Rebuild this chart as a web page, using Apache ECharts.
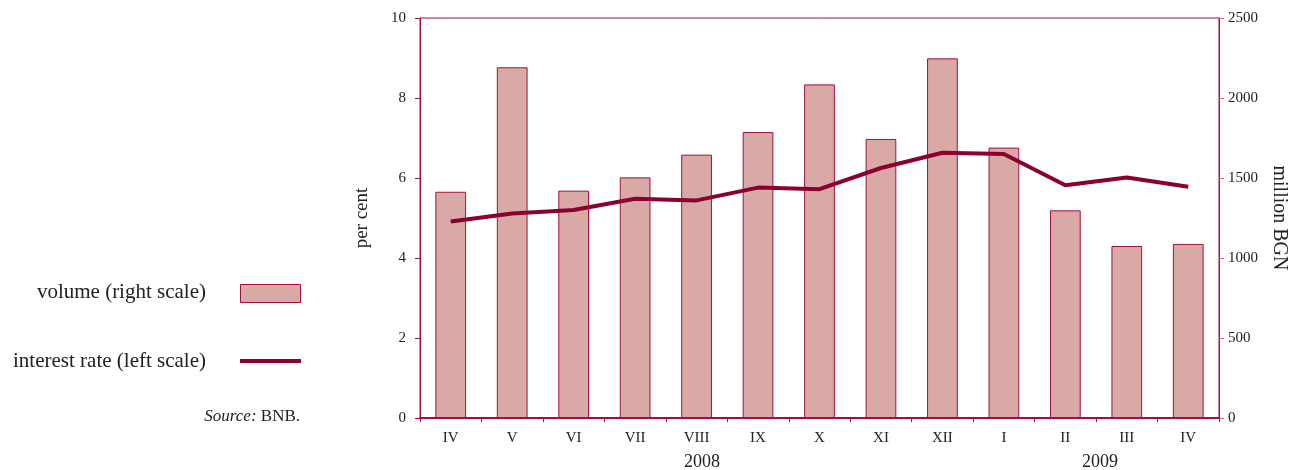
<!DOCTYPE html>
<html>
<head>
<meta charset="utf-8">
<script src="https://cdn.jsdelivr.net/npm/echarts@6/dist/echarts.min.js"></script>
<style>html,body{margin:0;padding:0;background:#fff}#c{width:1302px;height:470px}</style>
</head>
<body>
<div id="c"></div>
<script>
const categories = ['IV','V','VI','VII','VIII','IX','X','XI','XII','I','II','III','IV'];
const volume = [1414, 2192, 1421, 1504, 1646, 1787, 2085, 1744, 2248, 1690, 1298, 1075, 1088];
const interestRate = [4.91, 5.11, 5.2, 5.48, 5.44, 5.76, 5.72, 6.25, 6.63, 6.6, 5.82, 6.01, 5.78];
const years = ['2008', '2009'];
const legendVolume = 'volume (right scale)';
const legendRate = 'interest rate (left scale)';

const FONT = '"Liberation Serif", "DejaVu Serif", serif';
const AXIS = '#a0103f';
const LINE = '#8b0030';
const BAR = '#d8a9a5';
const TXT = '#222';

const chart = echarts.init(document.getElementById('c'));
chart.setOption({
  animation: false,
  backgroundColor: '#fff',
  grid: { left: 420, right: 83, top: 18, bottom: 52, show: true, borderColor: AXIS, borderWidth: 1 },
  xAxis: {
    type: 'category', data: categories,
    axisLine: { lineStyle: { color: AXIS, width: 2 } },
    axisTick: { show: true, length: 4, lineStyle: { color: AXIS } },
    axisLabel: { fontFamily: FONT, fontSize: 15, color: TXT, margin: 13 }
  },
  yAxis: [
    {
      type: 'value', min: 0, max: 10, interval: 2, position: 'left',
      name: 'per cent', nameLocation: 'middle', nameGap: 48, nameRotate: 90,
      nameTextStyle: { fontFamily: FONT, fontSize: 19, color: TXT },
      axisLine: { show: true, lineStyle: { color: AXIS } },
      axisTick: { show: true, length: 5, lineStyle: { color: AXIS } },
      axisLabel: { fontFamily: FONT, fontSize: 15, color: TXT, margin: 14 },
      splitLine: { show: false }
    },
    {
      type: 'value', min: 0, max: 2500, interval: 500, position: 'right',
      name: 'million BGN', nameLocation: 'middle', nameGap: 50, nameRotate: -90,
      nameTextStyle: { fontFamily: FONT, fontSize: 20, color: TXT },
      axisLine: { show: true, lineStyle: { color: AXIS } },
      axisTick: { show: true, length: 5, lineStyle: { color: '#d06080' } },
      axisLabel: { fontFamily: FONT, fontSize: 15, color: TXT, margin: 9, formatter: v => String(v) },
      splitLine: { show: false }
    }
  ],
  series: [
    {
      name: legendVolume, type: 'bar', yAxisIndex: 1, data: volume, barWidth: '50%',
      itemStyle: { color: BAR, borderColor: AXIS, borderWidth: 1 }
    },
    {
      name: legendRate, type: 'line', yAxisIndex: 0, data: interestRate,
      showSymbol: false, symbol: 'none', lineStyle: { color: LINE, width: 4 }, z: 5
    }
  ],
  graphic: [
    { type: 'text', x: 702, y: 462, style: { text: years[0], font: '18px ' + FONT, fill: TXT, align: 'center', verticalAlign: 'middle' } },
    { type: 'text', x: 1100, y: 462, style: { text: years[1], font: '18px ' + FONT, fill: TXT, align: 'center', verticalAlign: 'middle' } },
    { type: 'text', x: 206, y: 292, style: { text: legendVolume, font: '21px ' + FONT, fill: TXT, align: 'right', verticalAlign: 'middle' } },
    { type: 'rect', shape: { x: 240.5, y: 284.5, width: 60, height: 18 }, style: { fill: BAR, stroke: AXIS, lineWidth: 1 } },
    { type: 'text', x: 206, y: 361, style: { text: legendRate, font: '21px ' + FONT, fill: TXT, align: 'right', verticalAlign: 'middle' } },
    { type: 'line', shape: { x1: 240, y1: 361, x2: 301, y2: 361 }, style: { stroke: LINE, lineWidth: 4 } },
    { type: 'text', x: 300, y: 417, style: { text: '{i|Source:} BNB.', font: '17px ' + FONT, fill: TXT, align: 'right', verticalAlign: 'middle',
      rich: { i: { fontStyle: 'italic', fontFamily: FONT, fontSize: 17, fill: TXT } } } }
  ]
});
</script>
</body>
</html>
